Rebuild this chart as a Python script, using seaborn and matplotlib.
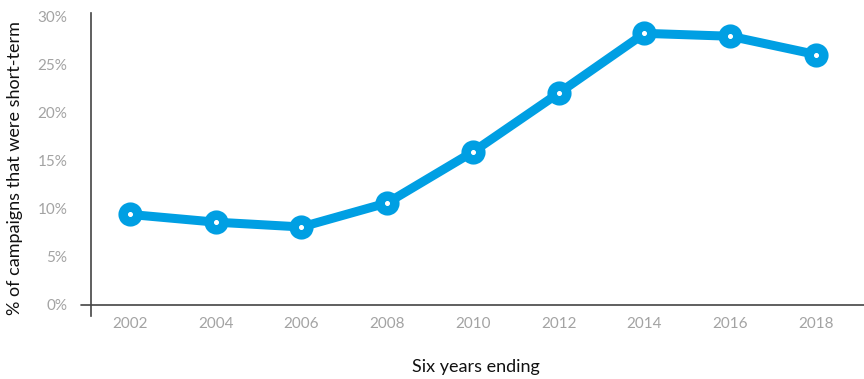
import matplotlib
matplotlib.use("Agg")
import matplotlib.pyplot as plt
import matplotlib.transforms as mtransforms
import seaborn as sns
import pandas as pd

years = [2002, 2004, 2006, 2008, 2010, 2012, 2014, 2016, 2018]
short_term_pct = [9.4, 8.6, 8.1, 10.6, 15.9, 22.0, 28.2, 27.9, 26.0]
y_ticks = [0, 5, 10, 15, 20, 25, 30]
x_label = "Six years ending"
y_label = "% of campaigns that were short-term"

df = pd.DataFrame({"year": years, "pct": short_term_pct})

sns.set_theme(style="white")
plt.rcParams["font.family"] = ["Lato", "DejaVu Sans"]

W, H = 864, 379
fig = plt.figure(figsize=(W / 100, H / 100), dpi=100)
ax = fig.add_axes([91 / W, (H - 316) / H, (864 - 91) / W, (316 - 13) / H])

blue = "#009FE3"
sns.lineplot(data=df, x="year", y="pct", ax=ax, color=blue, linewidth=6.5,
             marker="o", markersize=10.6, markeredgewidth=6.8,
             markerfacecolor="white", markeredgecolor=blue, zorder=3)

step = (816 - 130) / 16.0  # px per year
x0 = 2002 - (130 - 91) / step
x1 = 2018 + (864 - 816) / step
ax.set_xlim(x0, x1)
pxpp = (305 - 16) / 30.0
ax.set_ylim(-(316 - 305) / pxpp, 30 + (16 - 13) / pxpp)

for s in ["top", "right", "bottom"]:
    ax.spines[s].set_visible(False)
ax.spines["left"].set_color("#444444")
ax.spines["left"].set_linewidth(1.2)

trans = mtransforms.blended_transform_factory(ax.transAxes, ax.transData)
ax.plot([-10 / (864 - 91), 1.0], [0, 0], transform=trans, color="#444444",
        linewidth=1.2, clip_on=False, zorder=1)

ax.set_xticks(years)
ax.set_xticklabels([str(y) for y in years])
ax.set_yticks(y_ticks)
ax.set_yticklabels([f"{v}%" for v in y_ticks])
ax.tick_params(axis="both", length=0, colors="#a3a3a3", labelsize=11)
ax.tick_params(axis="y", pad=17)
ax.tick_params(axis="x", pad=1)

ax.set_xlabel(x_label, fontsize=13, color="#111111", labelpad=22)
ax.set_ylabel(y_label, fontsize=13, color="#111111", labelpad=8)
ax.yaxis.set_label_coords(-(91 - 15) / (864 - 91), (316 - 168) / (316 - 13))
ax.xaxis.set_label_coords((476 - 91) / (864 - 91), -(367 - 316) / (316 - 13))
ax.xaxis.label.set_verticalalignment("center")
ax.yaxis.label.set_verticalalignment("center")

fig.savefig("out.png", dpi=100, facecolor="white")
